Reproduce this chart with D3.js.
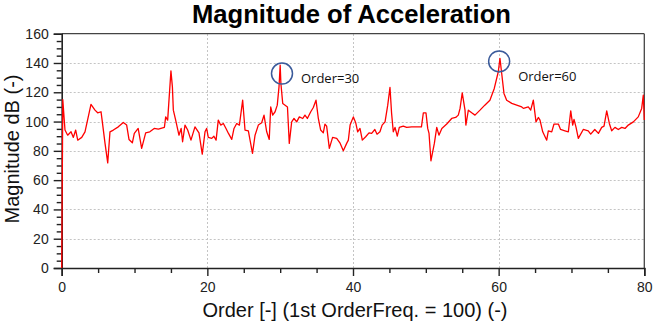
<!DOCTYPE html>
<html><head><meta charset="utf-8">
<script src="https://cdn.jsdelivr.net/npm/d3@7"></script>
<style>body{margin:0;background:#fff}svg{display:block}</style>
</head><body>
<script>
const orders = [0,0.15,0.45,0.82,1.28,1.6,1.92,2.2,2.75,3.2,4.02,4.57,4.94,5.4,5.58,5.95,6.32,6.63,7.09,7.77,8.46,8.92,9.24,9.7,9.97,10.5,10.98,11.53,12.1,12.7,13.27,14.1,14.28,14.55,15.0,15.2,15.33,15.65,16.1,16.4,16.6,16.93,17.3,17.75,18.3,18.85,19.3,19.68,19.9,20.13,20.6,20.9,21.2,21.5,21.83,22.2,22.56,22.9,23.35,23.66,24.03,24.4,24.85,25.17,25.63,26.2,26.55,27.0,27.46,27.78,28.15,28.5,28.7,28.97,29.3,29.6,29.84,30.0,30.1,30.35,31.0,31.25,31.58,31.9,32.27,32.63,33.1,33.4,33.73,34.2,34.55,34.92,35.24,35.56,35.92,36.15,36.38,36.75,37.2,37.76,38.2,38.67,39.13,39.36,39.6,40.05,40.37,40.64,40.96,41.28,41.74,42.2,42.56,43.0,43.3,43.7,44.0,44.4,44.77,45.08,45.3,45.53,45.77,46.08,46.36,46.9,47.37,48.06,49.4,49.66,50.02,50.26,50.44,50.7,51.17,51.5,51.8,52.2,52.87,53.55,54.1,54.46,54.7,55.0,55.38,55.5,55.84,56.3,56.75,57.44,58.1,58.8,59.4,59.95,60.18,60.42,60.73,61.1,61.8,62.48,63.17,63.4,64.07,64.4,64.76,65.13,65.45,65.68,66.05,66.6,66.82,67.29,67.6,68.2,68.5,69.1,69.57,69.9,70.17,70.35,70.63,70.94,71.62,72.3,72.64,73.2,73.7,74.15,74.47,74.84,75.2,75.52,75.97,76.43,76.9,77.35,77.8,78.5,79.17,79.64,79.86,80];
const magnitudes = [0,115,94.2,90.7,93,89.2,94.2,87.3,89.2,93,111.7,107.8,106,106.7,99.8,85.1,71.8,93,94.2,96.4,99.4,97.6,87.8,85.5,91.9,95.3,81.7,92.3,93,95.3,94.8,96,103.2,101,134.6,123.7,107.8,101,90.7,95.3,86.2,97.6,94.2,87.3,96.4,92.3,77.8,93,95.3,89.2,88.5,90,87.3,101,97.6,98.7,95.3,91.9,87.8,95.3,98.7,97.6,114.6,94.2,93.7,78.3,90.7,97.6,99.2,104.4,93,87.8,110,104.4,106.7,111.2,123.7,138.5,126,112.4,110,85.1,99.8,102.1,99.8,103.2,102.1,104.4,102.1,106.7,109.6,114.6,102.1,94.2,92.3,98.3,96.9,81.7,89.2,88.5,85.5,80,85.1,87.3,97.6,103.2,99.2,93,95.3,87.3,89.6,92.3,91.9,94.6,91.4,93,97.6,99.8,111.2,123.3,105.6,93,96,90.1,96,96.9,96,96.4,96.4,106,106,95.3,91.9,73.2,85.1,96,90.7,95.3,98.3,102.1,102.8,104.4,109,119.6,107.8,97.6,107.8,106,104.4,107.8,111.2,114.6,122.6,134,143.1,132.8,119.2,114.6,112.4,111.2,110,109,110,107.8,114.6,99.8,102.8,101,93,87.3,93.7,93,98.3,98.3,94.6,93.7,93,107.3,97.6,101.5,96,88.5,94.6,93.7,91.4,94.6,91.9,96,96.9,107.3,98.7,93.7,96,94.6,96,95.3,97.6,99.8,103.2,109,118,101];
const xTicks = [0,20,40,60,80];
const yTicks = [0,20,40,60,80,100,120,140,160];
const annotOrders = [30.25, 60.07];
const annotValues = [132.8, 141.1];
const annotLabels = ["Order=30", "Order=60"];
const title = "Magnitude of Acceleration";
const xLabel = "Order [-] (1st OrderFreq. = 100) (-)";
const yLabel = "Magnitude dB (-)";

const W = 659, H = 323;
const x = d3.scaleLinear().domain([0,80]).range([61.7,644.3]);
const y = d3.scaleLinear().domain([0,160]).range([268,33.7]);

const svg = d3.select("body").append("svg").attr("width",W).attr("height",H);

// grid
const grid = svg.append("g").attr("stroke","#c4c4c4").attr("stroke-width",1).attr("stroke-dasharray","2,2");
yTicks.filter(v=>v>0&&v<160).forEach(v=>{
  grid.append("line").attr("x1",x(0)).attr("x2",x(80)).attr("y1",Math.round(y(v))+0.5).attr("y2",Math.round(y(v))+0.5);
});
xTicks.filter(v=>v>0&&v<80).forEach(v=>{
  grid.append("line").attr("y1",y(0)).attr("y2",y(160)).attr("x1",Math.round(x(v))+0.5).attr("x2",Math.round(x(v))+0.5);
});

// frame top/right
svg.append("line").attr("x1",x(0)).attr("x2",x(80)).attr("y1",y(160)).attr("y2",y(160)).attr("stroke","#444").attr("stroke-width",1.3);
svg.append("line").attr("x1",x(80)).attr("x2",x(80)).attr("y1",y(160)).attr("y2",y(0)).attr("stroke","#444").attr("stroke-width",1.3);

// axes
const fontAx = "Liberation Sans, Arial, sans-serif";
const xAxis = d3.axisBottom(x).tickValues(xTicks).tickSize(8).tickPadding(6).tickFormat(d3.format("d"));
const gx = svg.append("g").attr("transform",`translate(0,${y(0)})`).call(xAxis);
gx.selectAll("text").attr("font-size",14).attr("font-family",fontAx).attr("fill","#222");
const xMinor = d3.axisBottom(x).tickValues(d3.range(5,80,5).filter(v=>v%20!==0)).tickSize(5).tickFormat("");
svg.append("g").attr("transform",`translate(0,${y(0)})`).call(xMinor).select(".domain").remove();

const yAxis = d3.axisLeft(y).tickValues(yTicks).tickSize(8).tickPadding(5).tickFormat(d3.format("d"));
const gy = svg.append("g").attr("transform",`translate(${x(0)},0)`).call(yAxis);
gy.selectAll("text").attr("font-size",14).attr("font-family",fontAx).attr("fill","#222");
const yMinor = d3.axisLeft(y).tickValues(d3.range(5,160,5).filter(v=>v%20!==0)).tickSize(5).tickFormat("");
svg.append("g").attr("transform",`translate(${x(0)},0)`).call(yMinor).select(".domain").remove();

svg.selectAll(".domain").attr("stroke","#222").attr("stroke-width",1.6);
svg.selectAll(".tick line").attr("stroke","#222").attr("stroke-width",1.4);

// line
const data = orders.map((o,i)=>({o, m: magnitudes[i]}));
svg.append("path").datum(data)
  .attr("fill","none").attr("stroke","#ff0000").attr("stroke-width",1.3).attr("stroke-linejoin","round")
  .attr("d", d3.line().x(d=>x(d.o)).y(d=>y(d.m)));

// annotations
annotOrders.forEach((o,i)=>{
  svg.append("circle").attr("cx",x(o)).attr("cy",y(annotValues[i])).attr("r",10.5)
    .attr("fill","none").attr("stroke","#3a5a9a").attr("stroke-width",1.5);
  svg.append("text").attr("x",x(o)+19).attr("y",y(annotValues[i])+(i===0?9.7:19.5))
    .attr("font-family","Open Sans, sans-serif").attr("font-size",13).attr("fill","#111")
    .text(annotLabels[i]);
});

// titles
svg.append("text").attr("x",351.5).attr("y",22.5).attr("text-anchor","middle")
  .attr("font-family",fontAx).attr("font-weight","bold").attr("font-size",25.6).attr("fill","#000").text(title);
svg.append("text").attr("x",355).attr("y",316.5).attr("text-anchor","middle")
  .attr("font-family",fontAx).attr("font-size",20).attr("fill","#111").text(xLabel);
svg.append("text").attr("transform","translate(19,149) rotate(-90)").attr("text-anchor","middle")
  .attr("font-family",fontAx).attr("font-size",20).attr("fill","#111").text(yLabel);
</script>
</body></html>
